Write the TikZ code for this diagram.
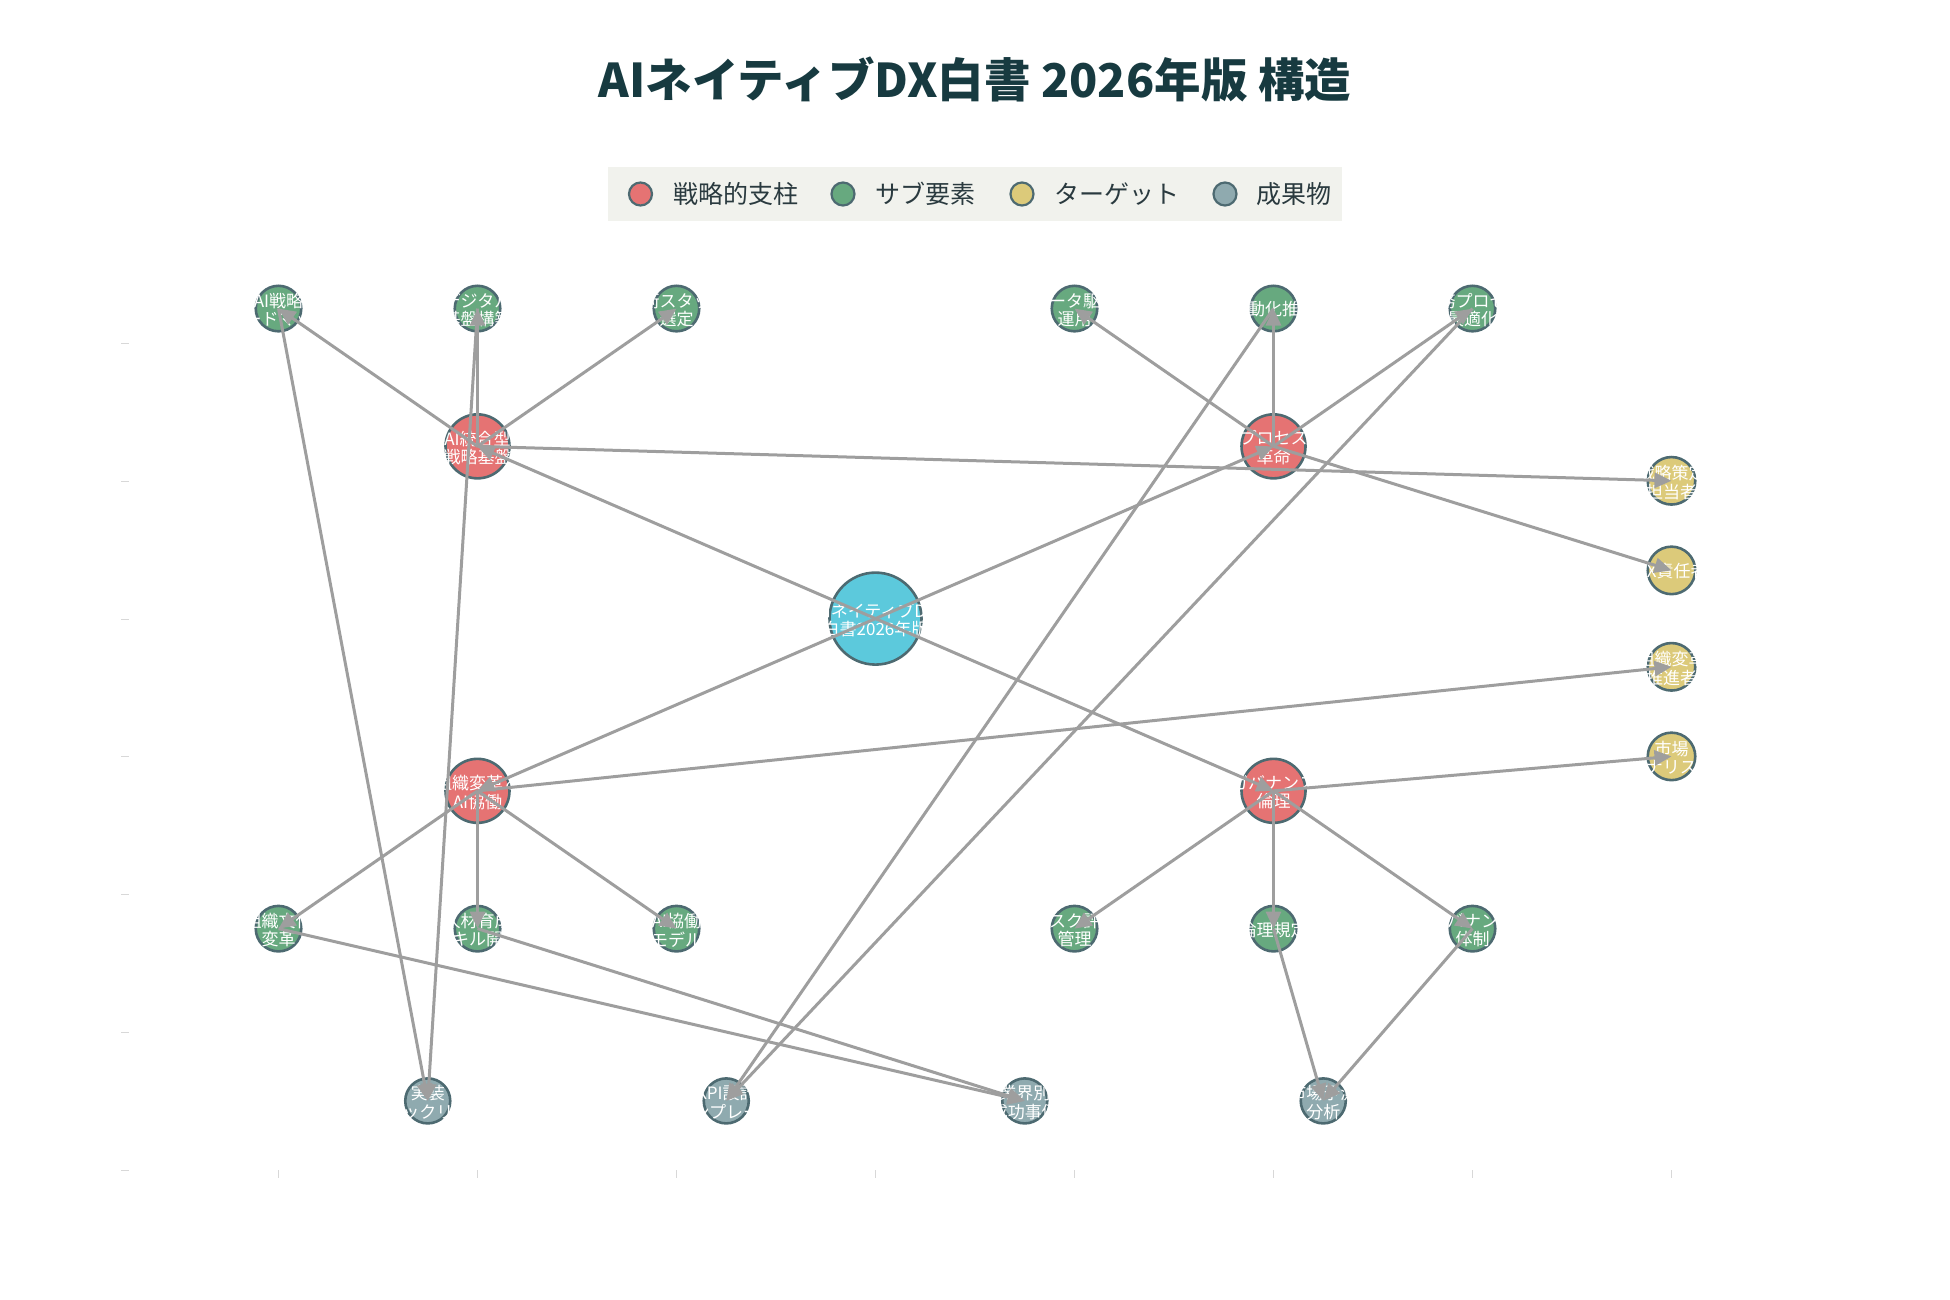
\documentclass[tikz,border=0pt]{standalone}
\usepackage{fontspec}
\setmainfont{Noto Sans CJK JP}
\usetikzlibrary{arrows.meta}
\definecolor{pillarc}{HTML}{E57373}
\definecolor{subc}{HTML}{67A97F}
\definecolor{targc}{HTML}{DCCA7A}
\definecolor{outcc}{HTML}{8FAAAF}
\definecolor{hubc}{HTML}{5CC9DC}
\definecolor{bordc}{HTML}{4D6A71}
\definecolor{edgec}{HTML}{9E9E9E}
\definecolor{titlec}{HTML}{173A40}
\definecolor{legbg}{HTML}{F1F2ED}
\definecolor{legtext}{HTML}{2A3A3F}
\definecolor{tickc}{HTML}{D8D8D8}
\begin{document}
\begin{tikzpicture}[x=1pt,y=-1pt,
  basenode/.style={circle, draw=bordc, line width=2.6pt, inner sep=0pt},
  hubnode/.style={basenode, fill=hubc, minimum size=92pt},
  pillarnode/.style={basenode, fill=pillarc, minimum size=64pt},
  subnode/.style={basenode, fill=subc, minimum size=45.5pt},
  targetnode/.style={basenode, fill=targc, minimum size=47.5pt},
  outnode/.style={basenode, fill=outcc, minimum size=45pt},
  lbl/.style={text=white, font=\fontsize{17}{18.5}\selectfont, align=center, inner sep=0pt},
  edge/.style={draw=edgec, line width=3pt, -{Triangle[length=17pt,width=15pt]}},
  legmark/.style={circle, draw=bordc, line width=2.2pt, minimum size=23pt, inner sep=0pt},
  legtxt/.style={anchor=west, text=legtext, font=\fontsize{25}{30}\selectfont, inner sep=0pt},
  tickmark/.style={draw=tickc, line width=1pt}
]
\useasboundingbox (0,0) rectangle (1950,1300);

% title
\node[font=\fontsize{46.5}{54}\selectfont\bfseries, text=titlec] (title) at (975,79) {AIネイティブDX白書 2026年版 構造};

% legend
\node[fill=legbg, minimum width=734pt, minimum height=54pt, inner sep=0pt] (leg) at (975,194) {};
\node[legmark, fill=pillarc] (lm1) at (640.5,194) {};
\node[legtxt] (lt1) at (673,194) {戦略的支柱};
\node[legmark, fill=subc] (lm2) at (843,194) {};
\node[legtxt] (lt2) at (875.5,194) {サブ要素};
\node[legmark, fill=targc] (lm3) at (1022,194) {};
\node[legtxt] (lt3) at (1054.6,194) {ターゲット};
\node[legmark, fill=outcc] (lm4) at (1225,194) {};
\node[legtxt] (lt4) at (1256,194) {成果物};

% axis ticks
\foreach \tx in {278.5,477.5,676.5,875.5,1074.5,1273.5,1472.5,1671.5}
  \draw[tickmark] (\tx,1170) -- (\tx,1178);
\foreach \ty in {343,481,619,756,894,1032,1170}
  \draw[tickmark] (121,\ty) -- (129,\ty);

% nodes
\node[hubnode] (hub) at (875.5,618.6) {};
\node[pillarnode] (p1) at (477.5,446.35) {};
\node[pillarnode] (p2) at (1273.5,446.35) {};
\node[pillarnode] (p3) at (477.5,790.85) {};
\node[pillarnode] (p4) at (1273.5,790.85) {};
\node[subnode] (s1) at (278.5,308.55) {};
\node[subnode] (s2) at (477.5,308.55) {};
\node[subnode] (s3) at (676.5,308.55) {};
\node[subnode] (s4) at (1074.5,308.55) {};
\node[subnode] (s5) at (1273.5,308.55) {};
\node[subnode] (s6) at (1472.5,308.55) {};
\node[subnode] (s7) at (278.5,928.65) {};
\node[subnode] (s8) at (477.5,928.65) {};
\node[subnode] (s9) at (676.5,928.65) {};
\node[subnode] (s10) at (1074.5,928.65) {};
\node[subnode] (s11) at (1273.5,928.65) {};
\node[subnode] (s12) at (1472.5,928.65) {};
\node[targetnode] (t1) at (1671.5,480.8) {};
\node[targetnode] (t2) at (1671.5,570.4) {};
\node[targetnode] (t3) at (1671.5,666.8) {};
\node[targetnode] (t4) at (1671.5,756.4) {};
\node[outnode] (o1) at (427.75,1100.9) {};
\node[outnode] (o2) at (726.25,1100.9) {};
\node[outnode] (o3) at (1024.75,1100.9) {};
\node[outnode] (o4) at (1323.25,1100.9) {};

% labels
\node[lbl] (hubt) at ([yshift=-1.5pt]hub.center) {AIネイティブDX\\白書2026年版};
\node[lbl] (p1t) at ([yshift=-1.5pt]p1.center) {AI統合型\\戦略基盤};
\node[lbl] (p2t) at ([yshift=-1.5pt]p2.center) {プロセス\\革命};
\node[lbl] (p3t) at ([yshift=-1.5pt]p3.center) {組織変革と\\AI協働};
\node[lbl] (p4t) at ([yshift=-1.5pt]p4.center) {ガバナンス\\倫理};
\node[lbl] (s1t) at ([yshift=-1.5pt]s1.center) {AI戦略\\ロードマップ};
\node[lbl] (s2t) at ([yshift=-1.5pt]s2.center) {デジタル\\基盤構築};
\node[lbl] (s3t) at ([yshift=-1.5pt]s3.center) {技術スタック\\選定};
\node[lbl] (s4t) at ([yshift=-1.5pt]s4.center) {データ駆動\\運用};
\node[lbl] (s5t) at ([yshift=-1pt]s5.center) {自動化推進};
\node[lbl] (s6t) at ([yshift=-1.5pt]s6.center) {業務プロセス\\最適化};
\node[lbl] (s7t) at ([yshift=-1.5pt]s7.center) {組織文化\\変革};
\node[lbl] (s8t) at ([yshift=-1.5pt]s8.center) {人材育成\\スキル開発};
\node[lbl] (s9t) at ([yshift=-1.5pt]s9.center) {AI協働\\モデル};
\node[lbl] (s10t) at ([yshift=-1.5pt]s10.center) {リスク評価\\管理};
\node[lbl] (s11t) at ([yshift=-1pt]s11.center) {倫理規定};
\node[lbl] (s12t) at ([yshift=-1.5pt]s12.center) {ガバナンス\\体制};
\node[lbl] (t1t) at ([yshift=-1.5pt]t1.center) {戦略策定\\担当者};
\node[lbl] (t2t) at ([yshift=-1pt]t2.center) {DX責任者};
\node[lbl] (t3t) at ([yshift=-1.5pt]t3.center) {組織変革\\推進者};
\node[lbl] (t4t) at ([yshift=-1.5pt]t4.center) {市場\\アナリスト};
\node[lbl] (o1t) at ([yshift=-1.5pt]o1.center) {実装\\チェックリスト};
\node[lbl] (o2t) at ([yshift=-1.5pt]o2.center) {KPI設計\\テンプレート};
\node[lbl] (o3t) at ([yshift=-1.5pt]o3.center) {業界別\\成功事例};
\node[lbl] (o4t) at ([yshift=-1.5pt]o4.center) {市場予測\\分析};

% edges
\draw[edge] (hub.center) -- (p1.center);
\draw[edge] (hub.center) -- (p2.center);
\draw[edge] (hub.center) -- (p3.center);
\draw[edge] (hub.center) -- (p4.center);
\draw[edge] (p1.center) -- (s1.center);
\draw[edge] (p1.center) -- (s2.center);
\draw[edge] (p1.center) -- (s3.center);
\draw[edge] (p2.center) -- (s4.center);
\draw[edge] (p2.center) -- (s5.center);
\draw[edge] (p2.center) -- (s6.center);
\draw[edge] (p3.center) -- (s7.center);
\draw[edge] (p3.center) -- (s8.center);
\draw[edge] (p3.center) -- (s9.center);
\draw[edge] (p4.center) -- (s10.center);
\draw[edge] (p4.center) -- (s11.center);
\draw[edge] (p4.center) -- (s12.center);
\draw[edge] (p1.center) -- (t1.center);
\draw[edge] (p2.center) -- (t2.center);
\draw[edge] (p3.center) -- (t3.center);
\draw[edge] (p4.center) -- (t4.center);
\draw[edge] (s1.center) -- (o1.center);
\draw[edge] (s2.center) -- (o1.center);
\draw[edge] (s5.center) -- (o2.center);
\draw[edge] (s6.center) -- (o2.center);
\draw[edge] (s7.center) -- (o3.center);
\draw[edge] (s8.center) -- (o3.center);
\draw[edge] (s11.center) -- (o4.center);
\draw[edge] (s12.center) -- (o4.center);
\end{tikzpicture}
\end{document}
